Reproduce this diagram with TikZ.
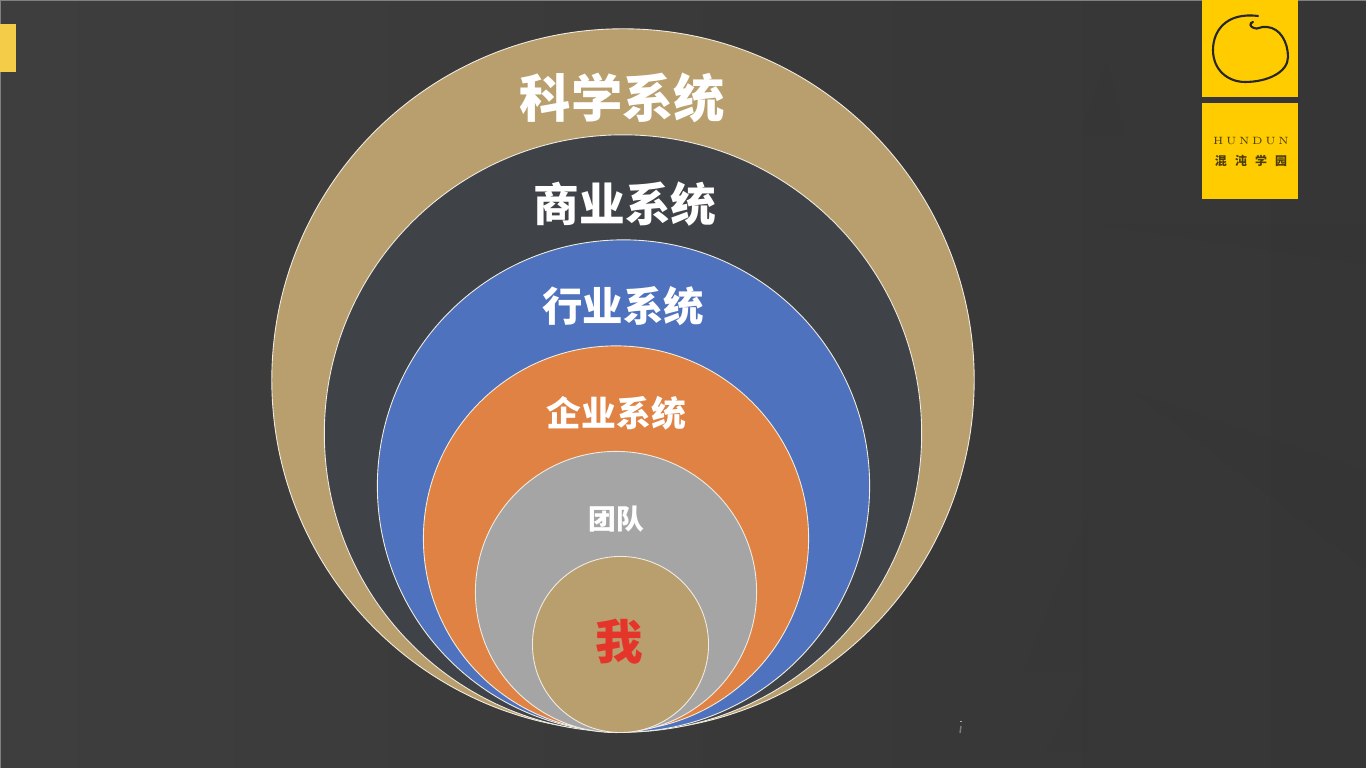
\documentclass[tikz,border=0pt]{standalone}
\usepackage{fontspec}
\usepackage{xcolor}
\newfontfamily\cjk{Noto Sans CJK SC}
\definecolor{slateleft}{HTML}{3E3E3E}
\definecolor{slateright}{HTML}{363636}
\definecolor{sandfill}{HTML}{BA9F6E}
\definecolor{coalfill}{HTML}{3F4347}
\definecolor{bluefill}{HTML}{4E72BE}
\definecolor{orangefill}{HTML}{E08244}
\definecolor{greyfill}{HTML}{A5A5A5}
\definecolor{logoyellow}{HTML}{FFCC00}
\definecolor{logotext}{HTML}{4A3C08}
\definecolor{tabyellow}{HTML}{F5CC47}
\definecolor{mered}{HTML}{E5352A}
\begin{document}
\begin{tikzpicture}[
  x=0.01cm,y=-0.01cm,
  ring/.style={circle,draw=white!80!sandfill,line width=0.25pt,inner sep=0pt},
  ringlabel/.style={inner sep=0pt,text=white},
  logobox/.style={fill=logoyellow,draw=none,inner sep=0pt,minimum width=0.96cm},
  streak/.style={fill=black,fill opacity=0.016,draw=none}
]
  \useasboundingbox (0,0) rectangle (1366,768);
  \fill[left color=slateleft,right color=slateright,middle color=slateleft!45!slateright] (0,0) rectangle (1366,768);
  % faint marks in the backdrop
  \fill[streak] (1107,59) -- (1080,135) -- (1125,135) -- cycle;
  \fill[streak] (1133,392) -- (1366,470) -- (1366,570) -- cycle;
  \fill[streak] (1100,225) -- (1366,265) -- (1366,225) -- cycle;
  \fill[streak] (1087,515) -- (1023,671) -- (1087,671) -- cycle;
  \fill[streak] (1087,671) -- (1045,752) -- (1087,752) -- cycle;
  \draw[gray,line width=0.5pt] (0,0.5) -- (1366,0.5);
  \draw[gray,line width=0.5pt] (0.5,0) -- (0.5,768);
  \fill[tabyellow] (0,24) rectangle (16,72);

  \node[ring,fill=sandfill,minimum size=7.02cm] (science) at (623,380) {};
  \node[ring,fill=coalfill,minimum size=5.97cm] (business) at (623,433.5) {};
  \node[ring,fill=bluefill,minimum size=4.92cm] (industry) at (623.5,486) {};
  \node[ring,fill=orangefill,minimum size=3.85cm] (company) at (616,538.5) {};
  \node[ring,fill=greyfill,minimum size=2.81cm] (team) at (616,592) {};
  \node[ring,fill=sandfill,minimum size=1.76cm] (self) at (620.5,644.5) {};

  \node[ringlabel,font=\cjk\bfseries\fontsize{14.6}{16}\selectfont] (sciencetext) at (622.5,98) {科学系统};
  \node[ringlabel,font=\cjk\bfseries\fontsize{13}{15}\selectfont] (businesstext) at (625,204) {商业系统};
  \node[ringlabel,font=\cjk\bfseries\fontsize{11.5}{13}\selectfont] (industrytext) at (623,306) {行业系统};
  \node[ringlabel,font=\cjk\bfseries\fontsize{9.9}{12}\selectfont] (companytext) at (616.5,413) {企业系统};
  \node[ringlabel,font=\cjk\bfseries\fontsize{7.9}{10}\selectfont] (teamtext) at (616,519) {团队};
  \node[ringlabel,text=mered,font=\cjk\bfseries\fontsize{13.5}{15}\selectfont] (selftext) at (619.5,642) {我};

  \node[logobox,minimum height=0.97cm] (logotop) at (1250,48.5) {};
  \node[logobox,minimum height=0.96cm] (logobottom) at (1250,151) {};
  \draw[black!85,line width=0.6pt,line cap=round] (1258,16) .. controls (1225,12) and (1213,32) .. (1213,50)
    .. controls (1213,70) and (1228,82) .. (1245,82)
    .. controls (1268,82) and (1288,72) .. (1288,57)
    .. controls (1288,42) and (1280,28) .. (1267,27)
    .. controls (1260,26) and (1258,30) .. (1254,28)
    .. controls (1250,27) and (1249,23) .. (1253,22);
  \node[inner sep=0pt,text=logotext,font=\fontsize{3}{4}\selectfont\rmfamily] (hundun) at (1251,141) {H\hspace{0.75pt}U\hspace{0.75pt}N\hspace{0.75pt}D\hspace{0.75pt}U\hspace{0.75pt}N};
  \node[inner sep=0pt,text=logotext,font=\cjk\bfseries\fontsize{3.4}{4}\selectfont] (hundunzh) at (1251,161) {混\hspace{2.3pt}沌\hspace{2.3pt}学\hspace{2.3pt}园};

  \draw[white!60!slateright,line width=0.3pt] (959.5,721.5) -- (961.5,721.5);
  \draw[white!35!slateright,line width=0.4pt] (961,726) -- (960,733);
\end{tikzpicture}
\end{document}
